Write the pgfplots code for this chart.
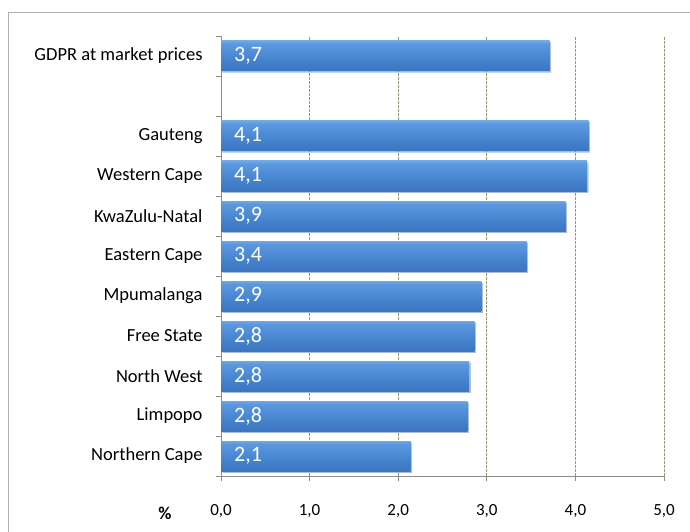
\documentclass[border=0pt]{standalone}
\usepackage{fontspec}
\setmainfont{Carlito}
\usepackage{pgfplots}
\pgfplotsset{compat=1.18}
\usetikzlibrary{shadows}
\definecolor{gridol}{HTML}{A09A62}
\definecolor{axgray}{HTML}{8C8C8C}
\definecolor{bartop}{HTML}{8DC6F6}
\definecolor{barhi}{HTML}{5B98DE}
\definecolor{barmid}{HTML}{4280CC}
\definecolor{barlow}{HTML}{3769AE}
\definecolor{barbot}{HTML}{284F86}
\pgfdeclareverticalshading{barshade}{100bp}{color(0bp)=(barbot); color(6bp)=(barlow); color(40bp)=(barmid); color(70bp)=(barhi); color(84bp)=(bartop); color(92bp)=(bartop); color(100bp)=(barhi)}
\pgfplotsset{mybar/.style={xbar, bar shift=0pt, bar width=30pt, draw=none, shading=barshade,
  drop shadow={opacity=0.3, shadow xshift=1.5pt, shadow yshift=-1.5pt}}}
\begin{document}
\begin{tikzpicture}[x=1pt,y=1pt]
\path[use as bounding box] (0,0) rectangle (690,531);
\draw[axgray!70, line width=0.8pt] (8,-5) rectangle (700,519);
\begin{axis}[
  at={(221pt,55pt)}, anchor=south west,
  scale only axis, width=443pt, height=440pt,
  xmin=0, xmax=5, ymin=-0.5, ymax=10.5,
  axis x line*=bottom, axis y line*=left,
  axis line style={axgray, line width=0.8pt},
  xtick={0,1,2,3,4,5},
  ytick={0,1,2,3,4,5,6,7,8,10},
  yticklabels={Northern Cape,Limpopo,North West,Free State,Mpumalanga,Eastern Cape,KwaZulu-Natal,Western Cape,Gauteng,GDPR at market prices},
  minor ytick={-0.5,0.5,...,10.5},
  tick align=outside,
  major tick length=5pt, minor tick length=5pt,
  ytick style={draw=none},
  minor y tick style={draw=axgray, line width=0.8pt},
  xtick style={axgray, line width=0.8pt},
  xmajorgrids,
  major x grid style={gridol, line width=1pt, dash pattern=on 3pt off 1pt},
  /pgf/number format/.cd, assume math mode=true, use comma, fixed, fixed zerofill, precision=1, /pgfplots/.cd,
  xticklabel style={font=\fontsize{17}{19}\selectfont, yshift=-20pt},
  yticklabel style={font=\fontsize{18.5}{20}\selectfont, xshift=-10pt},
  clip=false,
]
\addplot[mybar] coordinates {(2.14,0)};
\addplot[mybar] coordinates {(2.78,1)};
\addplot[mybar] coordinates {(2.80,2)};
\addplot[mybar] coordinates {(2.86,3)};
\addplot[mybar] coordinates {(2.94,4)};
\addplot[mybar] coordinates {(3.45,5)};
\addplot[mybar] coordinates {(3.89,6)};
\addplot[mybar] coordinates {(4.13,7)};
\addplot[mybar] coordinates {(4.15,8)};
\addplot[mybar] coordinates {(3.71,10)};
\addplot[draw=none, mark=none, nodes near coords, point meta=explicit symbolic,
  nodes near coords style={anchor=west, inner sep=0pt, xshift=13pt, text=white, font=\fontsize{22}{24}\selectfont}]
  table[meta=lab] {
x y lab
0 0 2,1
0 1 2,8
0 2 2,8
0 3 2,8
0 4 2,9
0 5 3,4
0 6 3,9
0 7 4,1
0 8 4,1
0 10 3,7
};
\end{axis}
\node[font=\bfseries\fontsize{18}{20}\selectfont] at (165,18) {\%};
\end{tikzpicture}
\end{document}
